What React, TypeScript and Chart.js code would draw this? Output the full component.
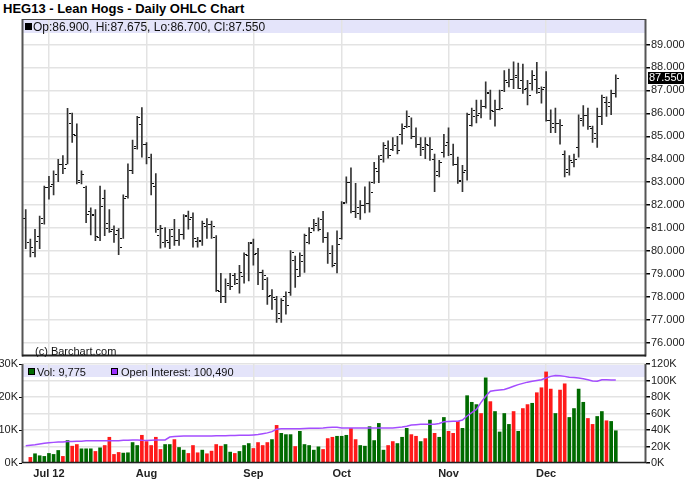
import React, { useEffect, useRef } from 'react';
import { Chart, registerables } from 'chart.js';
Chart.register(...registerables);

const opens = [81.45,80.38,79.95,80.67,81.24,82.8,82.9,83.35,83.8,83.8,
85.6,85.04,83.0,82.8,81.76,81.6,80.6,82.3,81.24,80.95,
80.9,80.55,82.4,83.54,84.51,85.54,84.66,84.09,82.83,80.7,
80.38,80.4,80.95,80.5,80.74,81.59,81.5,80.45,80.45,81.1,
81.2,80.6,78.27,78.03,78.6,78.96,78.6,78.9,79.81,80.41,
79.9,79.1,78.8,78.07,77.9,77.1,78.03,78.2,79.6,78.93,
79.55,80.38,81.0,81.21,81.38,80.6,79.92,79.5,80.55,82.12,
83.02,81.73,81.9,82.02,82.09,83.0,83.5,84.2,84.5,84.45,
84.6,85.09,85.44,85.44,85.02,84.66,84.45,84.6,84.0,83.5,
84.3,84.73,84.23,83.8,83.09,83.52,85.51,85.87,86.0,86.3,
86.87,86.1,86.2,87.0,87.37,87.5,87.65,87.44,87.1,87.3,
87.51,86.94,87.15,85.73,85.4,85.58,84.23,83.59,83.9,84.52,
85.8,85.94,85.37,84.94,85.87,86.51,86.3,86.9];

const highs = [81.81,80.52,80.95,81.52,82.83,83.26,83.49,84.0,84.16,86.22,
86.01,85.54,83.49,82.83,81.88,81.81,82.83,82.66,81.81,81.1,
80.98,82.45,83.8,84.83,85.87,86.25,84.73,84.23,83.37,81.12,
81.02,80.95,81.38,80.95,81.59,81.74,81.66,80.6,81.31,81.41,
81.31,80.67,79.03,78.79,79.03,79.03,79.38,79.92,80.38,80.52,
80.12,79.17,78.84,78.32,78.03,77.93,78.22,80.02,79.78,79.92,
80.74,81.02,81.38,81.45,81.73,80.81,80.24,80.88,82.16,83.23,
83.63,82.95,82.2,82.8,83.02,83.87,84.16,84.73,84.8,84.94,
85.0,85.54,86.11,85.8,85.37,84.94,84.94,84.94,84.23,83.95,
85.09,85.37,84.66,84.09,83.73,86.01,86.23,86.58,86.58,87.37,
87.01,86.58,87.01,87.86,87.93,88.24,88.19,88.15,87.44,87.86,
88.22,87.15,87.82,86.15,86.23,85.73,84.37,84.16,84.23,85.94,
86.34,86.23,85.44,86.23,86.8,86.72,87.01,87.675];

const lows = [80.1,79.74,79.74,80.1,81.17,82.26,82.45,83.02,83.37,83.8,
84.73,82.92,82.92,81.24,80.7,80.45,80.45,80.67,80.81,80.38,
79.84,80.55,82.3,83.37,84.44,84.09,83.8,82.45,80.81,80.13,
80.17,80.1,80.24,80.24,80.52,80.95,80.17,80.17,80.24,80.55,
80.55,78.24,77.75,77.75,78.32,78.53,78.17,78.6,78.7,79.38,
78.53,78.32,77.67,77.46,76.89,76.89,77.25,78.07,78.42,78.89,
79.07,80.31,80.88,80.88,80.38,79.46,79.31,79.05,80.52,82.09,
81.66,81.45,81.38,81.66,81.69,82.95,82.98,83.87,84.05,84.37,
84.23,84.66,85.37,84.9,84.52,84.16,84.02,83.95,82.59,83.23,
84.09,84.16,83.73,82.95,82.59,83.09,85.44,85.58,85.8,86.23,
85.73,85.44,86.15,86.94,87.15,87.08,87.08,86.87,86.37,87.01,
86.87,86.44,85.66,85.16,85.16,84.66,83.23,83.31,83.66,84.09,
85.44,85.3,84.73,84.52,85.51,85.87,85.94,86.7];

const closes = [80.38,80.17,80.45,81.45,82.78,82.83,83.35,83.8,83.62,86.01,
85.08,83.09,83.35,81.6,81.56,80.67,81.95,81.02,80.88,80.74,
80.17,82.3,83.54,84.58,85.82,84.66,84.09,82.95,80.95,81.02,
80.5,80.67,80.5,80.74,81.52,81.38,80.55,80.5,81.24,81.17,
81.1,78.32,78.03,78.53,78.46,78.79,79.1,79.88,80.34,79.88,
79.1,78.96,78.03,77.99,77.28,77.85,77.65,79.98,79.21,79.81,
80.69,80.81,81.12,80.95,80.6,79.92,79.38,80.3,82.09,83.02,
81.73,81.66,82.0,82.1,82.59,83.63,84.0,84.6,84.2,84.6,
84.4,85.37,85.87,85.0,84.66,84.52,84.66,84.45,83.3,83.9,
84.6,84.23,83.8,83.05,83.45,85.95,86.15,85.94,86.3,86.94,
86.15,86.2,86.23,87.44,87.51,87.58,87.11,87.08,86.8,87.65,
87.11,87.08,85.73,85.6,85.6,85.5,83.45,83.95,84.02,85.73,
85.94,85.44,85.16,85.87,86.72,86.5,86.9,87.55];

// volume in thousands
const volumes = [null,1.7,2.8,2.2,2.0,2.9,2.6,3.8,2.0,6.8,
5.1,5.6,4.3,4.3,4.3,3.5,4.6,5.3,7.8,2.6,
3.2,3.0,3.1,6.2,5.3,8.4,6.5,5.3,7.8,4.1,
5.6,5.6,7.1,4.7,3.9,2.9,5.3,3.1,3.9,2.8,
3.6,5.6,5.1,5.6,3.3,2.9,3.5,5.3,5.9,4.4,
6.2,5.3,6.2,7.1,11.4,9.0,8.6,8.6,5.0,9.6,
5.6,5.3,3.9,4.9,4.1,7.4,7.8,8.1,8.1,8.4,
10.5,7.1,5.3,5.1,11.0,6.8,12.0,3.9,5.3,6.5,
5.9,7.8,10.5,8.6,8.1,6.5,7.4,13.0,9.0,7.8,
13.8,9.6,9.0,12.6,10.5,20.4,18.4,17.7,15.0,25.8,
18.6,15.6,9.4,15.0,11.7,15.6,9.6,16.5,17.7,18.1,
21.3,22.8,27.6,22.4,15.0,22.1,24.0,13.8,16.5,22.4,
18.4,13.5,11.7,14.1,15.6,12.8,12.6,9.775];

// 1 = green (up) volume bar, 0 = red
const volUp = [0,0,1,1,1,1,1,1,0,1,
0,0,1,1,1,0,1,0,0,0,
0,1,1,1,1,0,0,0,0,0,
1,1,0,1,1,0,0,0,1,0,
0,0,0,1,1,0,1,1,1,0,
0,0,0,1,0,1,1,1,0,1,
1,1,1,1,0,0,0,1,1,1,
0,0,1,1,1,1,1,1,0,0,
1,1,1,0,0,1,0,1,0,1,
1,0,0,0,1,1,1,1,0,1,
0,1,1,1,1,0,1,0,0,1,
0,0,0,0,1,0,0,1,1,1,
1,0,0,1,1,0,1,1];

// open interest in thousands
const openInterest = [21,21.5,22,23,24,24.5,25,25.5,25.5,26,
26,26.5,26.5,27,27,27,27,27,27,27,
27,27.5,27.5,28,28,27.5,27.3,27.5,27.8,28,
28,31.5,32,32.5,32.7,32.7,32.7,32.7,32.7,32.7,
32.7,33,33,33,33.2,33.3,33.5,33.5,33.5,34,
34.5,35.5,36.5,38,41,41.5,41.5,41.5,41.5,41.5,
41.8,42,42,42.2,42.5,43,43.3,43.3,42.5,42.3,
42.3,42.3,42.5,42.5,42.4,42.4,42.4,42.4,42.4,42.5,
43,43.5,44.5,46,46.5,47,47,47,47,48,
50,50.3,50.5,50.6,52,57,61,65,73.5,81,
87,88,88.5,89,91,93,95,96.5,98,99,
100,101,103,105,106,105.8,105,104,103.5,103,
102,101,99.5,99,101,101,100.5,100.49];

const monthTickIdx = [5, 26, 49, 68, 91, 112];
const monthLabels = ['Jul 12', 'Aug', 'Sep', 'Oct', 'Nov', 'Dec'];
const priceTicks = [76, 77, 78, 79, 80, 81, 82, 83, 84, 85, 86, 87, 88, 89];
const volTicks = [0, 10, 20, 30];
const oiTicks = [0, 20, 40, 60, 80, 100, 120];

const FONT = '"Liberation Sans", Arial, sans-serif';
const GRID = '#e3e3e3';
const X_MIN = -0.8;
const X_MAX = 133.5;
const last = closes.length - 1;

const ohlcTicksPlugin = {
  id: 'ohlcTicks',
  afterDatasetsDraw(chart: any) {
    const ctx = chart.ctx;
    const xs = chart.scales.x;
    const ys = chart.scales.y;
    ctx.save();
    ctx.fillStyle = '#111';
    for (let i = 0; i < opens.length; i++) {
      const x = Math.round(xs.getPixelForValue(i));
      const yo = Math.round(ys.getPixelForValue(opens[i]));
      const yc = Math.round(ys.getPixelForValue(closes[i]));
      ctx.fillRect(x - 3, yo, 2, 1);
      ctx.fillRect(x + 1, yc, 2, 1);
    }
    ctx.restore();
  },
};

const stripPlugin = (h: number) => ({
  id: 'strip',
  beforeDraw(chart: any) {
    const { ctx, chartArea } = chart;
    ctx.save();
    ctx.fillStyle = '#e4e4fa';
    ctx.fillRect(chartArea.left, chartArea.top + 1, chartArea.right - chartArea.left, h);
    ctx.restore();
  },
});

const framePlugin = (bottomThick: boolean, topThick: boolean) => ({
  id: 'frame',
  afterDraw(chart: any) {
    const { ctx, chartArea } = chart;
    const { left, right, top, bottom } = chartArea;
    ctx.save();
    ctx.strokeStyle = '#555';
    ctx.lineWidth = 2;
    ctx.beginPath();
    ctx.moveTo(left + 0.5, top);
    ctx.lineTo(left + 0.5, bottom);
    ctx.moveTo(right - 0.5, top);
    ctx.lineTo(right - 0.5, bottom);
    ctx.stroke();
    ctx.lineWidth = 1;
    ctx.strokeStyle = '#444';
    if (!topThick) {
      ctx.beginPath();
      ctx.moveTo(left, top + 0.5);
      ctx.lineTo(right, top + 0.5);
      ctx.stroke();
    }
    ctx.strokeStyle = '#222';
    ctx.lineWidth = bottomThick ? 2 : 1.5;
    ctx.beginPath();
    ctx.moveTo(left, bottom - (bottomThick ? 1 : 0.5));
    ctx.lineTo(right, bottom - (bottomThick ? 1 : 0.5));
    ctx.stroke();
    ctx.restore();
  },
});

const priceLabelPlugin = {
  id: 'priceLabel',
  afterDraw(chart: any) {
    const { ctx, chartArea } = chart;
    const ys = chart.scales.y;
    const y = Math.round(ys.getPixelForValue(closes[last]));
    ctx.save();
    ctx.fillStyle = '#000';
    ctx.fillRect(chartArea.right + 2, y - 6, 36, 12);
    ctx.fillStyle = '#fff';
    ctx.font = `11px ${FONT}`;
    ctx.textBaseline = 'middle';
    ctx.textAlign = 'left';
    ctx.fillText(closes[last].toFixed(3), chartArea.right + 3, y);
    ctx.restore();
  },
};

const xScaleBase = (showLabels: boolean) => ({
  type: 'linear',
  min: X_MIN,
  max: X_MAX,
  offset: false,
  afterBuildTicks: (s: any) => {
    s.ticks = monthTickIdx.map((v) => ({ value: v }));
  },
  ticks: {
    display: showLabels,
    autoSkip: false,
    maxRotation: 0,
    padding: 4,
    color: '#222',
    font: { family: FONT, size: 11, weight: 'bold' },
    callback: (_v: any, i: number) => monthLabels[i],
  },
  grid: { color: GRID, lineWidth: 1.5, drawTicks: false, offset: false },
  border: { display: false },
  afterFit: (s: any) => {
    s.height = showLabels ? 40 : 0;
  },
});

function PriceChart() {
  const ref = useRef<HTMLCanvasElement>(null);
  useEffect(() => {
    const chart = new Chart(ref.current as HTMLCanvasElement, {
      type: 'bar',
      data: {
        datasets: [
          {
            data: lows.map((l, i) => ({ x: i, y: [l, highs[i]] })) as any,
            backgroundColor: '#333',
            barThickness: 1,
            grouped: false,
          } as any,
        ],
      },
      options: {
        animation: false,
        responsive: false,
        maintainAspectRatio: false,
        layout: { padding: { left: 22, top: 19, bottom: 1, right: 0 } },
        plugins: { legend: { display: false }, tooltip: { enabled: false } },
        scales: {
          x: xScaleBase(false) as any,
          y: {
            position: 'right',
            min: 75.41,
            max: 90.11,
            afterBuildTicks: (s: any) => {
              s.ticks = priceTicks.map((v) => ({ value: v }));
            },
            ticks: {
              padding: 1,
              color: '#222',
              font: { family: FONT, size: 11 },
              callback: (v: any) => Number(v).toFixed(3),
            },
            grid: { color: GRID, lineWidth: 1.5, tickColor: '#000', tickLength: 4 },
            border: { display: false },
            afterFit: (s: any) => {
              s.width = 42;
            },
          } as any,
        },
      },
      plugins: [stripPlugin(13), ohlcTicksPlugin, framePlugin(true, false), priceLabelPlugin],
    });
    return () => chart.destroy();
  }, []);
  return <canvas ref={ref} width={688} height={364} style={{ position: 'absolute', left: 0, top: 0 }} />;
}

function VolumeChart() {
  const ref = useRef<HTMLCanvasElement>(null);
  useEffect(() => {
    const chart = new Chart(ref.current as HTMLCanvasElement, {
      type: 'bar',
      data: {
        datasets: [
          {
            type: 'line',
            data: openInterest.map((v, i) => ({ x: i, y: v })),
            yAxisID: 'y1',
            borderColor: '#a44dff',
            borderWidth: 1.5,
            pointRadius: 0,
            tension: 0,
            order: 0,
          } as any,
          {
            type: 'bar',
            data: volumes.map((v, i) => ({ x: i, y: v })),
            yAxisID: 'y',
            backgroundColor: volUp.map((u) => (u ? '#006b00' : '#ff1a1a')),
            barThickness: 3,
            grouped: false,
            order: 1,
          } as any,
        ],
      },
      options: {
        animation: false,
        responsive: false,
        maintainAspectRatio: false,
        layout: { padding: { left: 0, top: 19, bottom: 0, right: 0 } },
        plugins: { legend: { display: false }, tooltip: { enabled: false } },
        scales: {
          x: xScaleBase(true) as any,
          y: {
            position: 'left',
            min: 0,
            max: 30,
            afterBuildTicks: (s: any) => {
              s.ticks = volTicks.map((v) => ({ value: v }));
            },
            ticks: {
              padding: 1,
              color: '#222',
              font: { family: FONT, size: 11 },
              callback: (v: any) => `${v}K`,
            },
            grid: { drawOnChartArea: false, tickColor: '#000', tickLength: 3 },
            border: { display: false },
            afterFit: (s: any) => {
              s.width = 22;
            },
          } as any,
          y1: {
            position: 'right',
            min: 0,
            max: 120,
            afterBuildTicks: (s: any) => {
              s.ticks = oiTicks.map((v) => ({ value: v }));
            },
            ticks: {
              padding: 1,
              color: '#222',
              font: { family: FONT, size: 11 },
              callback: (v: any) => `${v}K`,
            },
            grid: { color: GRID, lineWidth: 1.5, tickColor: '#000', tickLength: 4 },
            border: { display: false },
            afterFit: (s: any) => {
              s.width = 42;
            },
          } as any,
        },
      },
      plugins: [stripPlugin(12), framePlugin(false, true)],
    });
    return () => chart.destroy();
  }, []);
  return <canvas ref={ref} width={688} height={158} style={{ position: 'absolute', left: 0, top: 345 }} />;
}

const fmt = (n: number) => Math.round(n).toLocaleString('en-US');

export default function App() {
  const txt: React.CSSProperties = {
    position: 'absolute',
    fontFamily: FONT,
    fontSize: 11,
    color: '#111',
    whiteSpace: 'nowrap',
    lineHeight: '12px',
  };
  const sq = (left: number, top: number, color: string): React.CSSProperties => ({
    position: 'absolute',
    left,
    top,
    width: 7,
    height: 7,
    background: color,
    border: '1px solid #000',
    boxSizing: 'border-box',
  });
  return (
    <div style={{ position: 'absolute', left: 0, top: 0, width: 688, height: 503, background: '#fff', overflow: 'hidden' }}>
      <div style={{ ...txt, left: 3, top: 2, fontSize: 13, fontWeight: 'bold', lineHeight: '14px', color: '#000' }}>
        HEG13 - Lean Hogs - Daily OHLC Chart
      </div>
      <PriceChart />
      <VolumeChart />
      <div style={sq(25, 23, '#000')} />
      <div style={{ ...txt, left: 33, top: 21, fontSize: 12, lineHeight: '13px' }}>
        {`Op:${opens[last].toFixed(3)}, Hi:${highs[last].toFixed(3)}, Lo:${lows[last].toFixed(3)}, Cl:${closes[last].toFixed(3)}`}
      </div>
      <div style={{ ...txt, left: 35, top: 345 }}>(c) Barchart.com</div>
      <div style={sq(28, 368, '#006b00')} />
      <div style={{ ...txt, left: 37, top: 366 }}>{`Vol: ${fmt(volumes[last] * 1000)}`}</div>
      <div style={sq(111, 368, '#9b30ff')} />
      <div style={{ ...txt, left: 121, top: 366 }}>{`Open Interest: ${fmt(openInterest[last] * 1000)}`}</div>
    </div>
  );
}
